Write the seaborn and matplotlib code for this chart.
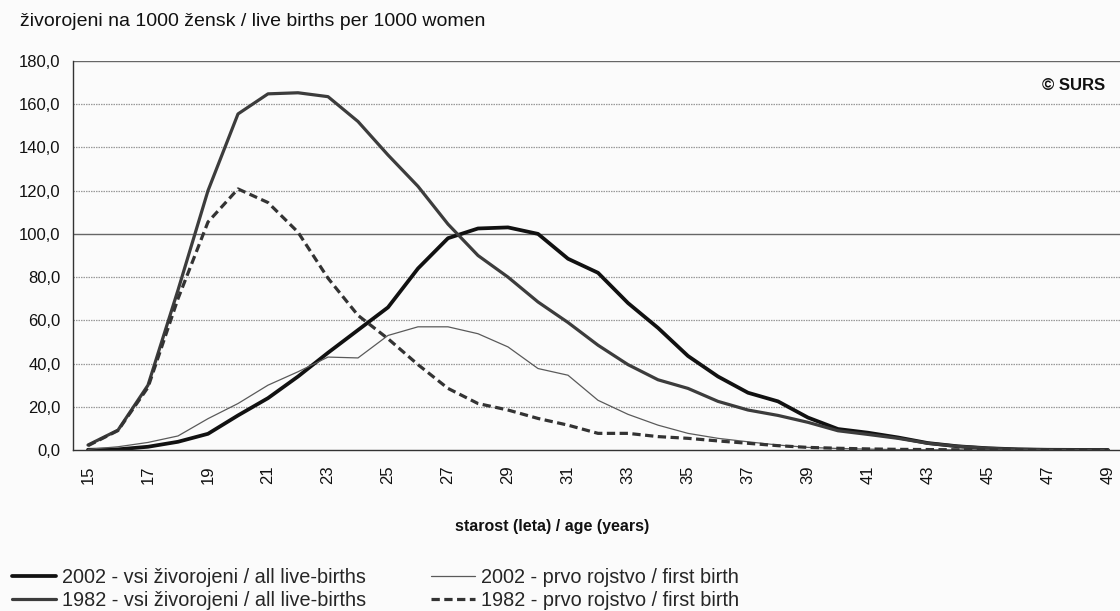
import matplotlib
matplotlib.use("Agg")
import matplotlib.pyplot as plt
import seaborn as sns
import pandas as pd
import numpy as np

ages = list(range(15, 50))

all_2002 = [0.1, 0.3, 1.5, 3.8, 7.5, 16.0, 24.0, 34.0, 45.0, 55.5, 66.0, 84.0,
            98.0, 102.5, 103.0, 100.0, 88.5, 82.0, 68.0, 56.5, 43.5, 34.0, 26.5,
            22.5, 15.0, 9.7, 8.0, 5.8, 3.2, 1.7, 0.8, 0.3, 0.1, 0.05, 0.0]
all_1982 = [2.3, 9.2, 30.0, 74.0, 120.0, 155.5, 164.8, 165.3, 163.5, 152.0, 136.5,
            122.0, 104.5, 90.0, 80.0, 68.5, 59.0, 48.5, 39.5, 32.5, 28.5, 22.5, 18.5,
            16.0, 12.8, 8.9, 7.2, 5.4, 3.1, 1.7, 0.8, 0.3, 0.1, 0.05, 0.0]
first_2002 = [0.3, 1.5, 3.5, 6.5, 14.5, 21.5, 30.0, 36.2, 43.0, 42.6, 53.0, 57.0,
              57.0, 53.8, 47.7, 37.7, 34.6, 23.0, 16.5, 11.5, 7.7, 5.4, 3.8, 2.3,
              1.2, 0.7, 0.4, 0.2, 0.1, 0.05, 0.0, 0.0, 0.0, 0.0, 0.0]
first_1982 = [2.0, 9.0, 29.0, 70.0, 105.5, 120.8, 114.5, 100.8, 79.5, 62.3, 51.5,
              39.5, 28.5, 21.5, 18.5, 14.6, 11.5, 7.7, 7.7, 6.2, 5.4, 4.2, 3.1, 2.0,
              1.2, 0.8, 0.5, 0.3, 0.2, 0.1, 0.05, 0.0, 0.0, 0.0, 0.0]

labels = ["2002 - vsi živorojeni / all live-births",
          "1982 - vsi živorojeni / all live-births",
          "2002 - prvo rojstvo / first birth",
          "1982 - prvo rojstvo / first birth"]
yticks = [0, 20, 40, 60, 80, 100, 120, 140, 160, 180]
xtick_ages = list(range(15, 50, 2))

sns.set_theme(style="white")
plt.rcParams['font.family'] = ['Liberation Sans', 'DejaVu Sans']

W, H = 1120, 611
fig = plt.figure(figsize=(W / 100, H / 100), dpi=100)
fig.patch.set_facecolor("#fbfbfb")
ax = fig.add_axes([73 / W, 1 - 450 / H, 1050 / W, (450 - 61) / H])
ax.set_facecolor("#fbfbfb")

styles = [
    dict(color="#111111", linewidth=2.7, linestyle="-"),
    dict(color="#3c3c3c", linewidth=2.3, linestyle="-"),
    dict(color="#5a5a5a", linewidth=0.9, linestyle="-"),
    dict(color="#333333", linewidth=2.3, linestyle=(0, (2.6, 1.4))),
]
series = [all_2002, all_1982, first_2002, first_1982]
for vals, lab, st in zip(series, labels, styles):
    df = pd.DataFrame({"age": ages, "val": vals})
    sns.lineplot(data=df, x="age", y="val", ax=ax, label=lab, **st)

ax.set_xlim(14.5, 49.5)
ax.set_ylim(0, 180)
ax.set_yticks(yticks)
ax.set_yticklabels([f"{v:.1f}".replace(".", ",") for v in yticks], fontsize=12)
ax.set_xticks(xtick_ages)
ax.set_xticklabels([str(a) for a in xtick_ages], rotation=90, fontsize=12)
ax.set_xticks(np.arange(14.5, 50.0, 1.0), minor=True)
ax.tick_params(axis="x", which="major", length=0, pad=11)
ax.tick_params(axis="x", which="minor", length=4, width=0.9, color="#333333", direction="out")
ax.tick_params(axis="y", which="major", length=4, width=0.9, color="#333333", direction="out", pad=5)
ax.tick_params(axis="both", labelcolor="#111111")

for v in yticks[1:]:
    if v in (100, 180):
        ax.axhline(v, color="#666666", linewidth=1.0, zorder=0)
    else:
        ax.axhline(v, color="#999999", linewidth=0.9, linestyle=(0, (1.2, 0.8)), zorder=0)

ax.spines["right"].set_visible(False)
ax.spines["top"].set_visible(False)
for s in ["left", "bottom"]:
    ax.spines[s].set_color("#333333")
    ax.spines[s].set_linewidth(1.0)

ax.set_xlabel("starost (leta) / age (years)", fontsize=11.5, fontweight="bold", color="#111111")
ax.xaxis.set_label_coords((552 - 73) / 1050, -(519 - 450) / 389)
ax.set_ylabel("")

fig.text(20 / W, 1 - 21 / H, "živorojeni na 1000 žensk / live births per 1000 women",
         fontsize=14, va="center", ha="left", color="#111111")
fig.text(1105 / W, 1 - 85 / H, "© SURS", fontsize=12, fontweight="bold",
         ha="right", va="center", color="#111111")

ax.get_legend().remove()
handles, labs = ax.get_legend_handles_labels()
fig.legend(handles, labs, ncol=2, loc="lower left", bbox_to_anchor=(0.0, -0.018),
           frameon=False, fontsize=14.3, handlelength=2.2, handletextpad=0.3,
           columnspacing=3.3, labelspacing=0.2, borderaxespad=0.2)

fig.savefig("out.png", dpi=100, facecolor=fig.get_facecolor())
